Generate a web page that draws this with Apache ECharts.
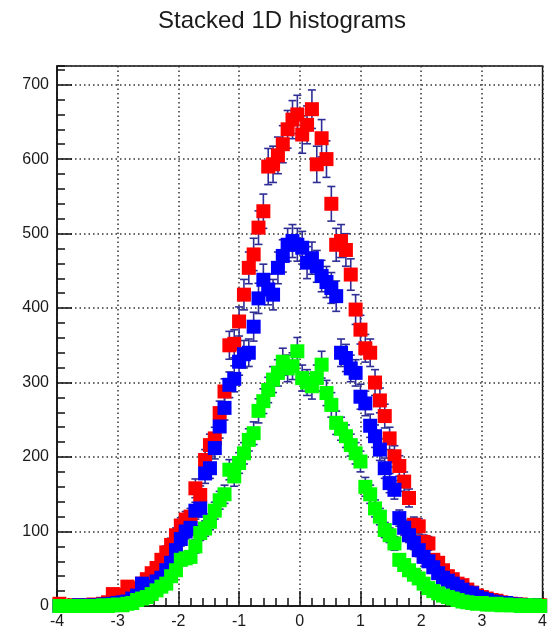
<!DOCTYPE html>
<html>
<head>
<meta charset="utf-8">
<script src="https://cdn.jsdelivr.net/npm/echarts@6/dist/echarts.min.js"></script>
<style>
html, body { margin: 0; padding: 0; background: #fff; }
#chart { width: 550px; height: 630px; }
</style>
</head>
<body>
<div id="chart"></div>
<script>
// Three gaussian histograms, 100 bins on [-4, 4], drawn without stacking
const chartTitle = 'Stacked 1D histograms';
const xMin = -4, xMax = 4, nBins = 100;
const yMin = 0, yMax = 725;
const xTickLabels = ['-4', '-3', '-2', '-1', '0', '1', '2', '3', '4'];
const yTickLabels = ['0', '100', '200', '300', '400', '500', '600', '700'];

const redCounts = [
  3, 0, 0, 1, 0, 0, 1, 2, 1, 3,
  5, 16, 12, 15, 26, 20, 24, 30, 36, 44,
  51, 62, 72, 82, 95, 108, 116, 120, 158, 149,
  196, 216, 225, 259, 288, 350, 352, 382, 418, 454,
  472, 508, 530, 590, 593, 605, 620, 640, 653, 660,
  633, 646, 667, 593, 628, 600, 540, 485, 490, 478,
  445, 398, 371, 346, 340, 300, 276, 255, 225, 201,
  188, 167, 145, 109, 107, 86, 84, 62, 58, 48,
  40, 36, 30, 28, 22, 18, 14, 12, 10, 8,
  7, 5, 4, 3, 2, 2, 1, 1, 0, 1
];
const blueCounts = [
  0, 0, 0, 0, 1, 0, 0, 1, 0, 2,
  2, 3, 4, 5, 6, 10, 14, 30, 22, 26,
  33, 38, 48, 58, 75, 90, 100, 105, 128, 131,
  178, 185, 212, 241, 266, 297, 305, 328, 338, 340,
  375, 413, 438, 425, 418, 454, 470, 485, 490, 485,
  481, 461, 467, 456, 443, 435, 427, 416, 340, 333,
  319, 313, 281, 272, 242, 228, 210, 185, 165, 156,
  118, 105, 95, 85, 75, 66, 60, 52, 44, 38,
  34, 30, 26, 22, 18, 17, 12, 10, 8, 6,
  5, 4, 4, 2, 2, 1, 1, 0, 1, 0
];
const greenCounts = [
  0, 0, 0, 0, 0, 0, 0, 0, 0, 1,
  0, 1, 2, 1, 3, 4, 8, 10, 12, 16,
  21, 26, 30, 40, 48, 62, 64, 66, 80, 98,
  104, 113, 128, 142, 150, 183, 174, 192, 205, 223,
  232, 262, 275, 290, 304, 313, 328, 319, 322, 342,
  306, 300, 295, 306, 324, 286, 270, 246, 238, 228,
  216, 205, 194, 160, 150, 131, 120, 102, 95, 84,
  62, 55, 48, 42, 37, 30, 24, 20, 17, 14,
  12, 10, 8, 6, 5, 4, 3, 4, 2, 2,
  3, 1, 2, 1, 1, 0, 1, 0, 1, 0
];

const histColors = { red: '#ff0000', blue: '#0000ff', green: '#00ff00' };
const errColor = '#2e2e96';
const axisColor = '#111';
const textColor = '#1a1a1a';

const binWidth = (xMax - xMin) / nBins;
const binCenters = Array.from({ length: nBins }, (_, i) => +(xMin + binWidth * (i + 0.5)).toFixed(2));

// sqrt(N) error bars with end caps
function errorBars(name, counts) {
  return {
    name: name + ' errors',
    type: 'custom',
    clip: false,
    encode: { x: 0, y: 1 },
    data: counts.map((c, i) => [binCenters[i], c, Math.sqrt(c)]),
    renderItem(params, api) {
      const x = api.value(0), y = api.value(1), e = api.value(2);
      if (!e) return null;
      const hi = api.coord([x, y + e]);
      const lo = api.coord([x, y - e]);
      const cap = 4;
      const st = { stroke: errColor, lineWidth: 1.6 };
      return {
        type: 'group',
        children: [
          { type: 'line', shape: { x1: hi[0], y1: hi[1], x2: lo[0], y2: lo[1] }, style: st },
          { type: 'line', shape: { x1: hi[0] - cap, y1: hi[1], x2: hi[0] + cap, y2: hi[1] }, style: st },
          { type: 'line', shape: { x1: lo[0] - cap, y1: lo[1], x2: lo[0] + cap, y2: lo[1] }, style: st }
        ]
      };
    }
  };
}

function markers(name, counts, color) {
  return {
    name: name,
    type: 'scatter',
    clip: false,
    symbol: 'rect',
    symbolSize: 14,
    itemStyle: { color: color, opacity: 1 },
    emphasis: { disabled: true },
    data: counts.map((c, i) => [binCenters[i], c])
  };
}

const chart = echarts.init(document.getElementById('chart'), null, { renderer: 'canvas' });

const fontFamily = '"Liberation Sans", Arial, Helvetica, sans-serif';

chart.setOption({
  animation: false,
  backgroundColor: '#ffffff',
  title: {
    text: chartTitle,
    left: 153,
    top: 4,
    textStyle: { fontFamily, fontSize: 24, fontWeight: 'normal', color: textColor }
  },
  grid: {
    left: 57, right: -3, top: 66, bottom: 24,
    show: true, borderColor: axisColor, borderWidth: 1.5, backgroundColor: 'transparent'
  },
  xAxis: [
    {
      type: 'value', min: xMin, max: xMax, interval: 1, position: 'bottom',
      axisLine: { show: true, onZero: false, lineStyle: { color: axisColor, width: 1.5 } },
      axisTick: { show: true, inside: true, length: 15, lineStyle: { color: axisColor, width: 1.5 } },
      axisLabel: {
        margin: 8, fontFamily, fontSize: 16, color: textColor,
        formatter: v => xTickLabels[Math.round(v - xMin)]
      },
      splitLine: { show: true, lineStyle: { color: '#333', width: 1.5, type: [1.5, 3] } }
    },
    {
      type: 'value', min: xMin, max: xMax, interval: 0.2, position: 'bottom',
      axisLine: { show: false, onZero: false },
      axisTick: { show: true, inside: true, length: 8, lineStyle: { color: axisColor, width: 1.5 } },
      axisLabel: { show: false },
      splitLine: { show: false }
    }
  ],
  yAxis: [
    {
      type: 'value', min: yMin, max: yMax, interval: 100, position: 'left',
      axisLine: { show: true, onZero: false, lineStyle: { color: axisColor, width: 1.5 } },
      axisTick: { show: true, inside: true, length: 15, lineStyle: { color: axisColor, width: 1.5 } },
      axisLabel: {
        margin: 8, fontFamily, fontSize: 16, color: textColor, showMaxLabel: false,
        formatter: v => (v % 100 === 0 && v / 100 < yTickLabels.length) ? yTickLabels[v / 100] : ''
      },
      splitLine: { show: true, lineStyle: { color: '#333', width: 1.5, type: [1.5, 3] } }
    },
    {
      type: 'value', min: yMin, max: yMax, interval: 20, position: 'left',
      axisLine: { show: false, onZero: false },
      axisTick: { show: true, inside: true, length: 8, lineStyle: { color: axisColor, width: 1.5 } },
      axisLabel: { show: false },
      splitLine: { show: false }
    }
  ],
  series: [
    errorBars('h1st', redCounts),
    markers('h1st', redCounts, histColors.red),
    errorBars('h2st', blueCounts),
    markers('h2st', blueCounts, histColors.blue),
    errorBars('h3st', greenCounts),
    markers('h3st', greenCounts, histColors.green)
  ]
});
</script>
</body>
</html>
